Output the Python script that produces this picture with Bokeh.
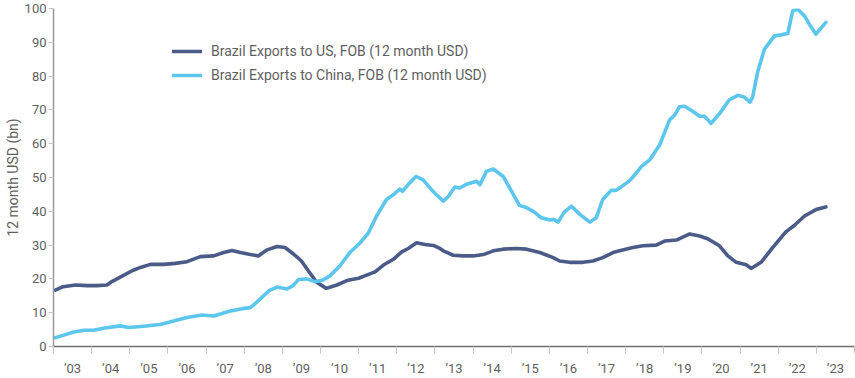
from bokeh.plotting import figure
from bokeh.models import FixedTicker, Legend, LegendItem, Range1d
from bokeh.embed import file_html
from bokeh.resources import INLINE

# ---- data (decimal year, USD bn, 12-month rolling) ----
us_t = [2003.05, 2003.25, 2003.58, 2003.88, 2004.14, 2004.40, 2004.53, 2004.80, 2005.06, 2005.28,
        2005.54, 2005.89, 2006.19, 2006.50, 2006.85, 2007.20, 2007.46, 2007.68, 2007.90, 2008.16,
        2008.37, 2008.60, 2008.86, 2009.07, 2009.30, 2009.50, 2009.68, 2009.90, 2010.15, 2010.43,
        2010.69, 2011.00, 2011.21, 2011.43, 2011.65, 2011.91, 2012.13, 2012.30, 2012.52, 2012.74,
        2012.96, 2013.13, 2013.22, 2013.48, 2013.74, 2014.00, 2014.27, 2014.53, 2014.79, 2015.14,
        2015.40, 2015.75, 2016.10, 2016.27, 2016.53, 2016.88, 2017.14, 2017.40, 2017.67, 2017.84,
        2018.19, 2018.45, 2018.80, 2019.02, 2019.33, 2019.68, 2019.94, 2020.15, 2020.46, 2020.68,
        2020.90, 2021.16, 2021.29, 2021.55, 2021.86, 2022.20, 2022.42, 2022.69, 2022.99, 2023.25]
us_v = [16.7, 17.7, 18.2, 18.0, 18.0, 18.2, 19.2, 20.8, 22.4, 23.4,
        24.3, 24.3, 24.6, 25.1, 26.6, 26.8, 27.8, 28.4, 27.8, 27.2,
        26.8, 28.6, 29.6, 29.3, 27.3, 25.3, 22.4, 19.0, 17.2, 18.2,
        19.5, 20.2, 21.1, 22.1, 24.1, 25.8, 28.0, 29.0, 30.7, 30.2,
        29.9, 29.0, 28.3, 27.0, 26.8, 26.8, 27.2, 28.3, 28.8, 29.0,
        28.8, 27.8, 26.3, 25.3, 24.9, 24.9, 25.3, 26.3, 27.8, 28.3,
        29.3, 29.8, 30.0, 31.2, 31.5, 33.3, 32.7, 31.9, 29.8, 26.8,
        24.9, 24.2, 23.1, 24.9, 29.3, 33.9, 35.8, 38.6, 40.5, 41.3]

cn_t = [2003.05, 2003.25, 2003.53, 2003.80, 2004.05, 2004.35, 2004.75, 2004.97, 2005.36, 2005.80,
        2006.10, 2006.50, 2006.89, 2007.20, 2007.63, 2007.95, 2008.16, 2008.33, 2008.46, 2008.65,
        2008.86, 2009.12, 2009.28, 2009.42, 2009.64, 2009.85, 2010.03, 2010.25, 2010.51, 2010.77,
        2011.04, 2011.25, 2011.47, 2011.73, 2011.91, 2012.08, 2012.15, 2012.30, 2012.50, 2012.69,
        2012.91, 2013.04, 2013.22, 2013.35, 2013.52, 2013.65, 2013.83, 2014.09, 2014.18, 2014.35,
        2014.53, 2014.79, 2015.01, 2015.22, 2015.36, 2015.58, 2015.79, 2016.01, 2016.12, 2016.23,
        2016.38, 2016.58, 2016.80, 2017.06, 2017.23, 2017.40, 2017.62, 2017.75, 2017.95, 2018.10,
        2018.24, 2018.41, 2018.63, 2018.89, 2019.15, 2019.28, 2019.41, 2019.54, 2019.72, 2019.94,
        2020.07, 2020.24, 2020.46, 2020.72, 2020.94, 2021.11, 2021.26, 2021.33, 2021.46, 2021.64,
        2021.90, 2022.07, 2022.25, 2022.38, 2022.51, 2022.69, 2022.82, 2022.99, 2023.25]
cn_v = [2.6, 3.3, 4.3, 4.8, 4.8, 5.5, 6.1, 5.6, 6.0, 6.5,
        7.4, 8.6, 9.3, 9.0, 10.5, 11.2, 11.5, 13.1, 14.5, 16.5,
        17.6, 17.0, 18.0, 19.8, 20.0, 19.2, 19.5, 20.9, 23.9, 27.8,
        30.7, 33.5, 38.6, 43.5, 44.9, 46.6, 45.9, 47.9, 50.3, 49.3,
        46.4, 44.9, 43.0, 44.4, 47.2, 46.9, 48.0, 48.9, 47.9, 51.8,
        52.5, 50.3, 45.9, 41.7, 41.3, 40.0, 38.1, 37.4, 37.6, 36.8,
        39.6, 41.5, 39.1, 36.8, 38.1, 43.5, 46.2, 46.2, 47.8, 49.0,
        50.8, 53.2, 55.2, 59.6, 67.0, 68.4, 70.9, 71.1, 69.9, 68.1,
        68.1, 66.0, 68.9, 73.0, 74.3, 73.8, 72.3, 73.8, 81.2, 88.0,
        91.9, 92.2, 92.6, 99.3, 99.8, 97.8, 95.3, 92.4, 95.9]

years = list(range(2003, 2024))
year_labels = ["’%02d" % (y % 100) for y in years]
y_ticks = [0, 10, 20, 30, 40, 50, 60, 70, 80, 90, 100]

legend_us = "Brazil Exports to US, FOB (12 month USD)"
legend_cn = "Brazil Exports to China, FOB (12 month USD)"

FONT = "Roboto"
TXT = "#5f5f5f"
US_COLOR = "#4b5b88"
CN_COLOR = "#5dc6ec"

p = figure(width=855, height=378, output_backend="svg", toolbar_location=None,
           x_range=Range1d(2003, 2024), y_range=Range1d(0, 100),
           min_border_left=53, min_border_right=1, min_border_top=8, min_border_bottom=30)
p.outline_line_color = None
p.xgrid.visible = False
p.ygrid.visible = False
p.background_fill_color = "white"
p.border_fill_color = "white"

r_us = p.line(us_t, us_v, line_width=3.6, color=US_COLOR, line_join="round", line_cap="round")
r_cn = p.line(cn_t, cn_v, line_width=3.6, color=CN_COLOR, line_join="round", line_cap="round")

# x axis: labels centered in each year, ticks at year boundaries
xa = p.xaxis[0]
xa.ticker = FixedTicker(ticks=[y + 0.5 for y in years], minor_ticks=years + [2024])
xa.major_label_overrides = {y + 0.5: lab for y, lab in zip(years, year_labels)}
xa.major_tick_out = 0
xa.major_tick_in = 0
xa.minor_tick_out = 7
xa.minor_tick_in = 0
xa.minor_tick_line_color = "#c8c8c8"
xa.minor_tick_line_width = 1
xa.axis_line_color = "#707070"
xa.axis_line_width = 1.5
xa.major_label_standoff = 7
xa.major_label_text_font = FONT
xa.major_label_text_font_size = "13px"
xa.major_label_text_color = TXT

ya = p.yaxis[0]
ya.ticker = FixedTicker(ticks=y_ticks, minor_ticks=[])
ya.major_tick_out = 5
ya.major_tick_in = 0
ya.major_tick_line_color = "#c8c8c8"
ya.axis_line_color = "#9a9a9a"
ya.axis_line_width = 1.5
ya.major_label_standoff = 2
ya.major_label_text_font = FONT
ya.major_label_text_font_size = "13px"
ya.major_label_text_color = TXT
ya.axis_label = "12 month USD (bn)"
ya.axis_label_standoff = 1
ya.axis_label_text_font = FONT
ya.axis_label_text_font_size = "14px"
ya.axis_label_text_font_style = "normal"
ya.axis_label_text_color = TXT

legend = Legend(items=[LegendItem(label=legend_us, renderers=[r_us]),
                       LegendItem(label=legend_cn, renderers=[r_cn])],
                location=(119, 261), orientation="vertical",
                padding=0, margin=0, spacing=4, glyph_width=30, glyph_height=20,
                label_standoff=9, label_height=20,
                label_text_font=FONT, label_text_font_size="14px", label_text_color=TXT,
                background_fill_alpha=0, border_line_alpha=0)
p.add_layout(legend)

open("out.html", "w").write(file_html(p, INLINE))
